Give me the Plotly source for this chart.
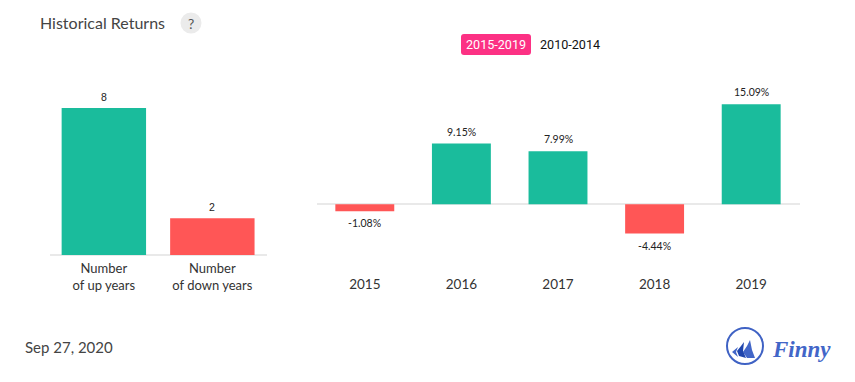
import plotly.graph_objects as go

W, H = 855, 382

# ---- data ----
count_labels = ["Number<br>of up years", "Number<br>of down years"]
count_values = [8, 2]
years = ["2015", "2016", "2017", "2018", "2019"]
returns = [-1.08, 9.15, 7.99, -4.44, 15.09]
return_labels = ["-1.08%", "9.15%", "7.99%", "-4.44%", "15.09%"]

GREEN, RED = "#1abc9c", "#ff5656"
GRID = "#e9e9e9"
FONT = "Lato"


def fx(p):
    return p / W


def fy(p):
    return 1 - p / H


def colour(v):
    return GREEN if v >= 0 else RED


fig = go.Figure()
fig.add_bar(
    x=count_labels, y=count_values, xaxis="x", yaxis="y", width=0.778,
    marker=dict(color=[colour(1), colour(-1)], line_width=0),
)
fig.add_bar(
    x=years, y=returns, xaxis="x2", yaxis="y2", width=0.61,
    marker=dict(color=[colour(v) for v in returns], line_width=0),
)


def rrect(x0, y0, x1, y1, r):
    a, b, c, d = fx(x0), fx(x1), fy(y0), fy(y1)
    rx, ry = r / W, r / H
    return (f"M{a+rx},{c} L{b-rx},{c} Q{b},{c} {b},{c-ry} L{b},{d+ry} Q{b},{d} {b-rx},{d} "
            f"L{a+rx},{d} Q{a},{d} {a},{d+ry} L{a},{c-ry} Q{a},{c} {a+rx},{c} Z")


def poly(points):
    return "M" + " L".join(f"{fx(x)},{fy(y)}" for x, y in points) + " Z"


shapes = [
    dict(type="path", path=rrect(461, 34, 531, 55, 3), fillcolor="#fc3184", line_width=0),
    dict(type="circle", x0=fx(180.5), x1=fx(201.5), y0=fy(33.5), y1=fy(12.5),
         fillcolor="#ebebeb", line_width=0),
    dict(type="circle", x0=fx(727), x1=fx(763), y0=fy(364), y1=fy(328),
         line=dict(color="#3f62c4", width=2), fillcolor="white"),
    dict(type="path", path=poly([(750, 340), (752, 350), (755, 358), (747, 358), (743, 352), (747, 346)]),
         fillcolor="#4266c8", line_width=0),
    dict(type="path", path=poly([(744, 342), (743, 351), (746, 358), (739, 356), (737, 351), (741, 346)]),
         fillcolor="#1f45ad", line_width=0),
    dict(type="path", path=poly([(738, 347), (736, 352), (738, 357), (732, 352)]),
         fillcolor="#4266c8", line_width=0),
]
for s in shapes:
    s.update(xref="paper", yref="paper")


def note(text, x, y, size, color, family=FONT, anchor="left"):
    return dict(text=text, x=fx(x), y=fy(y), xref="paper", yref="paper", showarrow=False,
                xanchor=anchor, yanchor="middle", align=anchor,
                xshift=-2 if anchor == "left" else 0,
                font=dict(family=family, size=size, color=color))


def value_note(text, x, y, axis, family, shift):
    up = y >= 0
    return dict(text=text, x=x, y=y, xref=f"x{axis}", yref=f"y{axis}", showarrow=False,
                yanchor="bottom" if up else "top", yshift=shift if up else -shift,
                font=dict(family=family, size=10.5, color="#222222"))


annotations = [
    note("Historical Returns", 40, 22.5, 16, "#444444"),
    note("?", 191, 23.5, 14, "#555555", anchor="center"),
    note("2015-2019", 496, 44.5, 12.6, "#ffffff", family="Roboto", anchor="center"),
    note("2010-2014", 570, 44.5, 12.6, "#111111", family="Roboto", anchor="center"),
    note("Sep 27, 2020", 25, 347, 15, "#444444"),
    note("<b><i>Finny</i></b>", 772, 349, 23, "#4266c8", family="Liberation Serif"),
]
annotations += [value_note(str(v), i, v, "", "Liberation Sans", 3)
                for i, v in enumerate(count_values)]
annotations += [value_note(t, i, v, "2", FONT, 4)
                for i, (v, t) in enumerate(zip(returns, return_labels))]

left_tick = dict(family=FONT, size=13, color="#333333")
right_tick = dict(family=FONT, size=13.5, color="#333333")
fig.update_layout(
    width=W, height=H, margin=dict(l=0, r=0, t=0, b=0), autosize=False,
    paper_bgcolor="white", plot_bgcolor="white", showlegend=False,
    font=dict(family=FONT),
    shapes=shapes, annotations=annotations,
    xaxis=dict(domain=[fx(49.6), fx(266.6)], type="category", anchor="y", showgrid=False,
               range=[-0.5, len(count_labels) - 0.5],
               showline=False, zeroline=False, tickfont=left_tick, ticks="outside", ticklen=1,
               tickcolor="rgba(0,0,0,0)", fixedrange=True),
    yaxis=dict(domain=[fy(255), fy(108)], range=[0, 8], showgrid=False, visible=True,
               showticklabels=False, ticks="", zeroline=True, zerolinecolor=GRID,
               zerolinewidth=2, showline=False),
    xaxis2=dict(domain=[fx(316.5), fx(799.5)], type="category", anchor="y2", showgrid=False,
                range=[-0.5, len(years) - 0.5],
                showline=False, zeroline=False, tickfont=right_tick, ticks="outside", ticklen=1,
                tickcolor="rgba(0,0,0,0)"),
    yaxis2=dict(domain=[fy(270.3), fy(98.3)], range=[-10, 16], showgrid=False,
                showticklabels=False, ticks="", zeroline=True, zerolinecolor=GRID,
                zerolinewidth=2, showline=False, anchor="x2"),
)

fig.write_html("out.html", config=dict(displayModeBar=False),
               post_script="document.body.style.margin='0';")
